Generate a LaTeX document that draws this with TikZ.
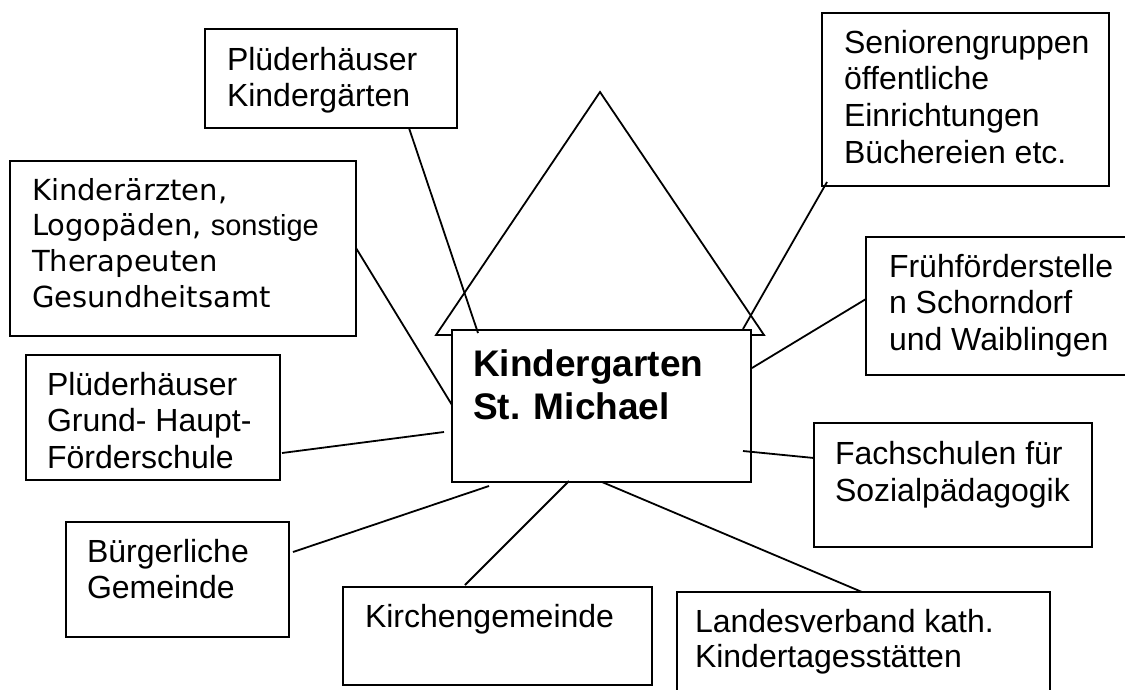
\documentclass[tikz,border=0pt]{standalone}
\usepackage{fontspec}
\setmainfont{Liberation Sans}
\newfontfamily\verd{DejaVu Sans}
\newcommand\mylines[2]{\vtop{\baselineskip=#1\lineskiplimit=-1000pt\lineskip=0pt\halign{##\hfil\cr #2\crcr}}}
\tikzset{
  box/.style={draw, line width=2pt, fill=white, inner sep=0pt, outer sep=0pt, anchor=north west},
  conn/.style={line width=1.8pt},
  txt/.style={anchor=base west, inner sep=0pt, outer sep=0pt, font=\fontsize{32}{36.7}\selectfont},
  ttl/.style={anchor=base west, inner sep=0pt, outer sep=0pt, font=\fontsize{37}{43}\selectfont\bfseries},
}
\begin{document}
\begin{tikzpicture}[x=1pt,y=-1pt]
\useasboundingbox (0,0) rectangle (1125,689);
\fill[white] (0,0) rectangle (1125,689);
\begin{scope}
\clip (0,0) rectangle (1125,689);
% roof
\draw[line width=1.8pt] (600,92) -- (436,335) -- (764,335) -- cycle;
% boxes
\node[box, minimum width=252pt, minimum height=99pt] (PK) at (205,29) {};
\node[box, minimum width=346pt, minimum height=175pt] (KA) at (10,161) {};
\node[box, minimum width=254pt, minimum height=125pt] (GS) at (26,355) {};
\node[box, minimum width=223pt, minimum height=115pt] (BG) at (66,522) {};
\node[box, minimum width=309pt, minimum height=98pt] (KG) at (343,587) {};
\node[box, minimum width=373pt, minimum height=130pt] (LV) at (677,592) {};
\node[box, minimum width=278pt, minimum height=124pt] (FS) at (814,423) {};
\node[box, minimum width=280pt, minimum height=138pt] (FF) at (866,237) {};
\node[box, minimum width=287pt, minimum height=173pt] (SE) at (822,13) {};
\node[box, minimum width=299pt, minimum height=152pt] (M) at (452,330) {};
% connectors
\draw[conn] ([xshift=204pt]PK.south west) -- ([xshift=26pt,yshift=-3pt]M.north west);
\draw[conn] ([yshift=-87pt]KA.north east) -- ([yshift=-75pt]M.north west);
\draw[conn] ([xshift=2pt,yshift=-98pt]GS.north east) -- ([xshift=-8pt,yshift=-102pt]M.north west);
\draw[conn] ([xshift=4pt,yshift=-30pt]BG.north east) -- ([xshift=37pt,yshift=-4pt]M.south west);
\draw[conn] ([xshift=122pt,yshift=2pt]KG.north west) -- ([xshift=117pt,yshift=1pt]M.south west);
\draw[conn] ([xshift=185pt]LV.north west) -- ([xshift=150pt]M.south west);
\draw[conn] ([yshift=-35pt]FS.north west) -- ([xshift=-8pt,yshift=-121pt]M.north east);
\draw[conn] ([yshift=-62pt]FF.north west) -- ([xshift=1pt,yshift=-38pt]M.north east);
\draw[conn] ([xshift=5pt,yshift=4pt]SE.south west) -- ([xshift=-8pt,yshift=1pt]M.north east);
% texts
\node[ttl] (tM) at (473,376) {\mylines{43pt}{Kindergarten\cr St. Michael}};
\node[txt] (tPK) at (227,70) {\mylines{36.7pt}{Plüderhäuser\cr Kindergärten}};
\node[txt, font=\fontsize{29}{35.7}\selectfont\verd] (tKA) at (32,200) {\mylines{35.7pt}{Kinderärzten,\cr Logopäden, {\fontsize{29}{35.7}\selectfont\rmfamily sonstige}\cr Therapeuten\cr Gesundheitsamt}};
\node[txt] (tGS) at (47,395) {\mylines{36.5pt}{Plüderhäuser\cr Grund- Haupt-\cr Förderschule}};
\node[txt] (tBG) at (87,562) {\mylines{36.5pt}{Bürgerliche\cr Gemeinde}};
\node[txt] (tKG) at (365,627) {Kirchengemeinde};
\node[txt] (tLV) at (695,632) {\mylines{35.5pt}{Landesverband kath.\cr Kindertagesstätten}};
\node[txt] (tFS) at (835,464) {\mylines{37pt}{Fachschulen für\cr Sozialpädagogik}};
\node[txt] (tFF) at (889,277) {\mylines{36.5pt}{Frühförderstelle\cr n Schorndorf\cr und Waiblingen}};
\node[txt] (tSE) at (844,53) {\mylines{36.7pt}{Seniorengruppen\cr öffentliche\cr Einrichtungen\cr Büchereien etc.}};
\end{scope}
\end{tikzpicture}
\end{document}
